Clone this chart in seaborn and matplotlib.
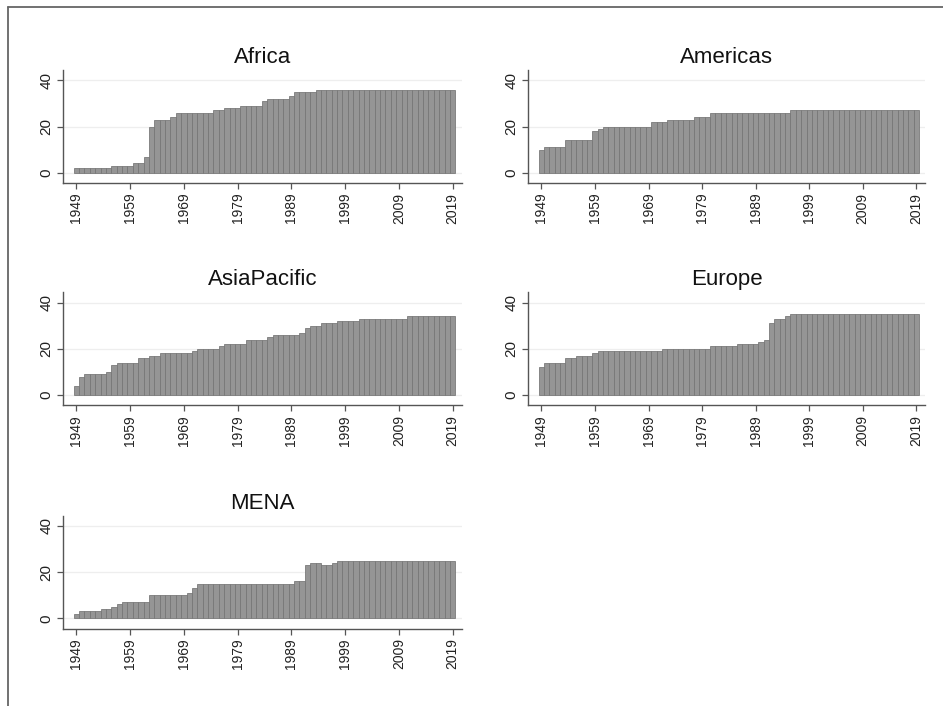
import numpy as np
import pandas as pd
import matplotlib
matplotlib.use("Agg")
import matplotlib.pyplot as plt
from matplotlib.lines import Line2D
import seaborn as sns

years = list(range(1949, 2020))

africa = ([2]*7 + [3]*4 + [4]*2 + [7] + [20] + [23]*3 + [24] + [26]*7 + [27]*2 +
          [28]*3 + [29]*4 + [31] + [32]*4 + [33] + [35]*4 + [36]*26)
americas = ([10] + [11]*4 + [14]*5 + [18] + [19] + [20]*9 + [22]*3 + [23]*5 +
            [24]*3 + [26]*15 + [27]*24)
asiapacific = ([4] + [8] + [9]*4 + [10] + [13] + [14]*4 + [16]*2 + [17]*2 + [18]*6 +
               [19] + [20]*4 + [21] + [22]*4 + [24]*4 + [25] + [26]*5 + [27] + [29] +
               [30]*2 + [31]*3 + [32]*4 + [33]*9 + [34]*9)
europe = ([12] + [14]*4 + [16]*2 + [17]*3 + [18] + [19]*12 + [20]*9 + [21]*5 +
          [22]*4 + [23] + [24] + [31] + [33]*2 + [34] + [35]*24)
mena = ([2] + [3]*4 + [4]*2 + [5] + [6] + [7]*5 + [10]*7 + [11] + [13] + [15]*18 +
        [16]*2 + [23] + [24]*2 + [23]*2 + [24] + [25]*22)

regions = ["Africa", "Americas", "AsiaPacific", "Europe", "MENA"]
series = [africa, americas, asiapacific, europe, mena]
xticks = list(range(1949, 2020, 10))
yticks = [0, 20, 40]

sns.set_style("white")
plt.rcParams['font.family'] = ['Liberation Sans', 'DejaVu Sans']

W, H = 943, 706
fig = plt.figure(figsize=(W/100, H/100), dpi=100)

col_lr = [(63, 461.7), (528, 925.4)]
row_zero = [172.7, 395.0, 618.3]
ppu = 2.31
ylo, yhi = -4.5, 44.5

bar_face = "#959595"
bar_edge = "#747474"
axis_col = "#555555"

for i, (name, vals) in enumerate(zip(regions, series)):
    r, c = divmod(i, 2)
    l, rgt = col_lr[c]
    top = row_zero[r] - yhi*ppu
    bot = row_zero[r] - ylo*ppu
    ax = fig.add_axes([l/W, 1 - bot/H, (rgt - l)/W, (bot - top)/H])
    df = pd.DataFrame({"year": years, "count": vals})
    sns.barplot(data=df, x="year", y="count", native_scale=True, width=1.0,
                color=bar_face, saturation=1, edgecolor=bar_edge, linewidth=0.55,
                ax=ax, zorder=2)
    ax.set_xlim(1946.5, 2020.7)
    ax.set_ylim(ylo, yhi)
    ax.set_yticks(yticks)
    ax.set_xticks(xticks)
    ax.set_xticklabels([str(x) for x in xticks], rotation=90, fontsize=10)
    ax.set_yticklabels([str(y) for y in yticks], rotation=90, fontsize=11, va="center")
    for y in yticks:
        ax.axhline(y, color="#eeeeee", lw=0.9, zorder=0)
    ax.tick_params(axis="both", which="both", direction="out", length=4, width=0.9,
                   color=axis_col, labelcolor="#222222", bottom=True, left=True, pad=3)
    for s in ["top", "right"]:
        ax.spines[s].set_visible(False)
    for s in ["left", "bottom"]:
        ax.spines[s].set_color(axis_col)
        ax.spines[s].set_linewidth(1.0)
    ax.set_xlabel("")
    ax.set_ylabel("")
    ax.set_title(name, fontsize=16, pad=5, color="#111111")

fig.add_artist(Line2D([8/W, 8/W], [0, 1 - 7/H], transform=fig.transFigure,
                      color="#666666", lw=1.3))
fig.add_artist(Line2D([8/W, 1], [1 - 7/H, 1 - 7/H], transform=fig.transFigure,
                      color="#666666", lw=1.3))

fig.savefig("out.png", dpi=100, facecolor="white")
